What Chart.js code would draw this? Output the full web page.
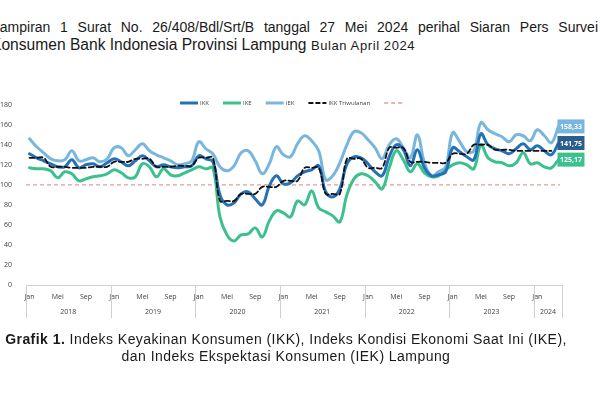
<!DOCTYPE html>
<html>
<head>
<meta charset="utf-8">
<script src="https://cdn.jsdelivr.net/npm/chart.js@4.4.1/dist/chart.umd.min.js"></script>
<style>
  body { margin:0; background:#fff; width:600px; height:394px; overflow:hidden; position:relative;
         font-family:"Liberation Sans", Arial, sans-serif; color:#1a1a1a; }
  #kop1 { position:absolute; left:-8px; top:19px; width:606px; font-size:14px; line-height:16px;
          text-align:justify; text-align-last:justify; }
  #kop2 { position:absolute; left:-9px; top:36px; font-size:15.6px; line-height:18px; white-space:nowrap; }
  #kop2 span { font-size:13px; letter-spacing:0.6px; }
  #wrap { position:absolute; left:0; top:0; width:600px; height:394px; }
  #judul { position:absolute; left:0; top:331px; width:572px; text-align:center; font-size:14px;
           letter-spacing:0.45px; line-height:16.5px; }
</style>
</head>
<body>
<div id="kop1">Lampiran 1 Surat No. 26/408/Bdl/Srt/B tanggal 27 Mei 2024 perihal Siaran Pers Survei</div>
<div id="kop2">Konsumen Bank Indonesia Provinsi Lampung <span>Bulan April 2024</span></div>
<div id="wrap"><canvas id="grafik" width="600" height="394"></canvas></div>
<div id="judul"><b>Grafik 1.</b> Indeks Keyakinan Konsumen (IKK), Indeks Kondisi Ekonomi Saat Ini (IKE),<br>dan Indeks Ekspektasi Konsumen (IEK) Lampung</div>

<script>
// Data
const tahun = [2018, 2019, 2020, 2021, 2022, 2023, 2024];
const namaBulan = ['Jan', 'Feb', 'Mar', 'Apr', 'Mei', 'Jun', 'Jul', 'Agu', 'Sep', 'Okt', 'Nov', 'Des'];
const jumlahBulan = 76; // Jan 2018 - Apr 2024

const ikk = [
  131, 127, 124, 121, 118, 118, 125, 117, 120, 121, 118, 122,
  126, 123, 119, 124, 129, 124, 118, 120, 118, 117, 118, 119,
  129, 126, 123, 90, 80, 82, 91, 93, 86, 80, 99, 109,
  101, 102, 109, 113, 115, 119, 93, 88, 96, 121, 128, 127,
  121, 113, 109, 128, 140, 135, 119, 135, 117, 109, 110, 113,
  137, 133, 128, 125, 151, 140, 136, 134, 131, 136, 141, 135,
  139, 134, 130, 141.75
];
const ike = [
  117, 116, 116, 114, 107, 113, 111, 104, 106, 108, 109, 111,
  115, 112, 107, 108, 121, 118, 108, 116, 110, 109, 112, 115,
  118, 116, 117, 68, 50, 44, 50, 51, 57, 48, 64, 74,
  72, 68, 84, 80, 94, 77, 73, 69, 63, 90, 106, 111,
  109, 103, 96, 117, 134, 125, 113, 121, 112, 108, 109, 115,
  120, 122, 120, 116, 140, 127, 123, 122, 119, 122, 132, 121,
  122, 118, 117, 125.17
];
const iek = [
  146, 138, 132, 126, 124, 125, 134, 124, 125, 127, 123, 126,
  137, 137, 129, 135, 141, 134, 130, 127, 124, 120, 121, 124,
  143, 136, 131, 118, 114, 119, 132, 134, 124, 111, 121, 138,
  130, 128, 141, 149, 144, 134, 105, 109, 122, 140, 153, 152,
  145, 137, 126, 140, 146, 137, 127, 150, 122, 109, 113, 118,
  152, 143, 133, 134, 162, 155, 151, 148, 143, 150, 149, 144,
  155, 149, 142, 158.33
];
// IKK triwulanan, Q1 2018 - Q1 2024
const ikkTriwulanan = [
  127, 118, 117, 118,
  123, 126, 118, 119,
  127, 84, 91, 98,
  104, 117, 91, 126,
  117, 137, 123, 122,
  131, 140, 135, 134,
  134
];
const batasOptimis = 100;

const labelBulan = [];
for (let i = 0; i < jumlahBulan; i++) {
  labelBulan.push(namaBulan[i % 12] + ' ' + tahun[Math.floor(i / 12)]);
}
// tiap nilai triwulan dipakai untuk 3 bulannya
const triwulananBulanan = ikkTriwulanan.flatMap(v => [v, v, v]);

const warna = {
  ikk: '#2471b8',
  ike: '#3cc08d',
  iek: '#78b6de',
  tri: '#111111',
  batas: '#e49c9c',
  kotakIkk: '#2c5d8c'
};
const fontSumbu = '"Open Sans", "Liberation Sans", sans-serif';

// garis 100, legenda, label tahun, label nilai akhir
const hiasan = {
  id: 'hiasan',
  beforeDatasetsDraw(chart) {
    const ctx = chart.ctx, a = chart.chartArea, y = chart.scales.y;
    const py = y.getPixelForValue(batasOptimis);
    ctx.save();
    ctx.strokeStyle = warna.batas;
    ctx.lineWidth = 1.3;
    ctx.setLineDash([4, 3]);
    ctx.beginPath();
    ctx.moveTo(a.left, py);
    ctx.lineTo(a.right - 2, py);
    ctx.stroke();
    ctx.restore();
  },
  afterDraw(chart) {
    const ctx = chart.ctx, a = chart.chartArea;
    ctx.save();

    // pemisah tahun dan label tahun
    const lebar = (a.right - a.left) / jumlahBulan;
    ctx.strokeStyle = '#d0d0d0';
    ctx.lineWidth = 1;
    ctx.fillStyle = '#404040';
    ctx.font = '7px ' + fontSumbu;
    ctx.textAlign = 'center';
    ctx.textBaseline = 'middle';
    for (let k = 0; k < tahun.length; k++) {
      const awal = k * 12, akhir = Math.min(jumlahBulan, awal + 12);
      const x0 = a.left + awal * lebar, x1 = a.left + akhir * lebar;
      ctx.beginPath();
      ctx.moveTo(Math.round(x0) + 0.5, a.bottom);
      ctx.lineTo(Math.round(x0) + 0.5, a.bottom + 33);
      ctx.stroke();
      ctx.fillText(String(tahun[k]), (x0 + x1) / 2, a.bottom + 27);
    }
    ctx.beginPath();
    ctx.moveTo(Math.round(a.right) + 0.5, a.bottom);
    ctx.lineTo(Math.round(a.right) + 0.5, a.bottom + 33);
    ctx.stroke();

    // legenda
    const item = [
      { teks: 'IKK', warna: warna.ikk, tebal: 3, putus: [] },
      { teks: 'IKE', warna: warna.ike, tebal: 3, putus: [] },
      { teks: 'IEK', warna: warna.iek, tebal: 3, putus: [] },
      { teks: 'IKK Triwulanan', warna: warna.tri, tebal: 2, putus: [5, 2] },
      { teks: '', warna: warna.batas, tebal: 1.3, putus: [4, 3] }
    ];
    let lx = 180;
    const ly = 103;
    ctx.font = '6px ' + fontSumbu;
    ctx.textAlign = 'left';
    item.forEach(it => {
      ctx.strokeStyle = it.warna;
      ctx.lineWidth = it.tebal;
      ctx.setLineDash(it.putus);
      ctx.beginPath();
      ctx.moveTo(lx, ly);
      ctx.lineTo(lx + 18, ly);
      ctx.stroke();
      ctx.setLineDash([]);
      ctx.fillStyle = '#404040';
      ctx.fillText(it.teks, lx + 20, ly + 0.5);
      lx += 20 + ctx.measureText(it.teks).width + 14;
    });

    // kotak nilai terakhir
    const kotak = [
      { idx: 2, isi: warna.iek },
      { idx: 0, isi: warna.kotakIkk },
      { idx: 1, isi: warna.ike }
    ];
    ctx.font = 'bold 7px ' + fontSumbu;
    ctx.textAlign = 'center';
    kotak.forEach(k => {
      const meta = chart.getDatasetMeta(k.idx);
      const data = chart.data.datasets[k.idx].data;
      const titik = meta.data[data.length - 1];
      ctx.fillStyle = k.isi;
      ctx.fillRect(titik.x - 1, titik.y - 7, 27, 14);
      ctx.fillStyle = '#ffffff';
      const nilai = data[data.length - 1].toFixed(2).replace('.', ',');
      ctx.fillText(nilai, titik.x + 12.5, titik.y + 0.5);
    });
    ctx.restore();
  }
};

new Chart(document.getElementById('grafik'), {
  type: 'line',
  data: {
    labels: labelBulan,
    datasets: [
      { label: 'IKK', data: ikk, borderColor: warna.ikk, borderWidth: 3, order: 1 },
      { label: 'IKE', data: ike, borderColor: warna.ike, borderWidth: 3, order: 2 },
      { label: 'IEK', data: iek, borderColor: warna.iek, borderWidth: 3, order: 3 },
      { label: 'IKK Triwulanan', data: triwulananBulanan, borderColor: warna.tri, borderWidth: 1.8,
        borderDash: [5, 3], order: 0 }
    ]
  },
  options: {
    responsive: false,
    animation: false,
    layout: { padding: { left: 0, right: 38, top: 104.7, bottom: 0 } },
    elements: {
      point: { radius: 0 },
      line: { tension: 0.4, fill: false, borderCapStyle: 'round' }
    },
    plugins: { legend: { display: false }, tooltip: { enabled: false } },
    scales: {
      x: {
        offset: true,
        grid: { display: false, drawTicks: false },
        border: { display: true, color: '#d0d0d0', width: 1 },
        ticks: {
          autoSkip: false, maxRotation: 0, padding: 8,
          font: { size: 7, family: fontSumbu }, color: '#404040',
          callback: (v, i) => (i % 4 === 0 ? namaBulan[i % 12] : '')
        },
        afterFit(s) { s.height = 109; }
      },
      y: {
        min: 0, max: 180,
        grid: { display: false },
        border: { display: false },
        ticks: { stepSize: 20, padding: 6, font: { size: 7, family: fontSumbu }, color: '#404040' },
        afterFit(s) { s.width = 26; }
      }
    }
  },
  plugins: [hiasan]
});
</script>
</body>
</html>
